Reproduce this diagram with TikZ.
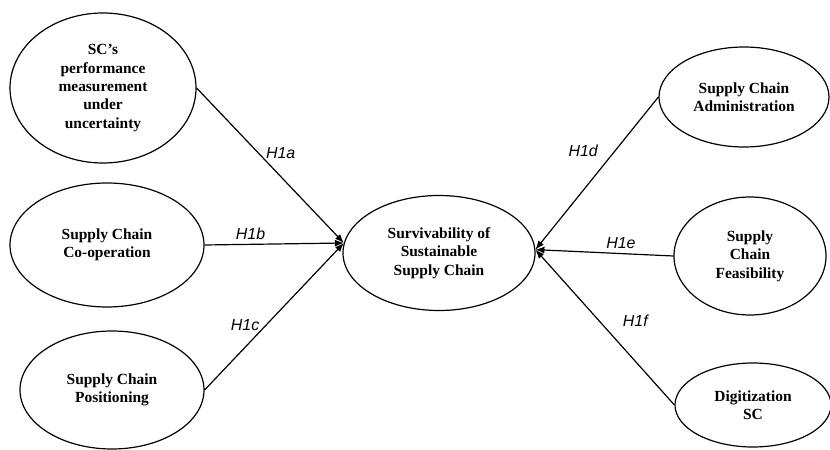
\documentclass[tikz,border=0pt]{standalone}
\usepackage{fontspec}
\setmainfont{Liberation Serif}
\newfontfamily\hfont{Liberation Sans}
\usetikzlibrary{shapes.geometric,arrows.meta}

\begin{document}
\begin{tikzpicture}[x=1bp, y=-1bp, line width=1.2pt, >={Latex[length=9pt,width=7pt]},
    main/.style = {draw, ellipse, inner sep=0pt, align=center, font=\fontsize{15.5}{18.5}\selectfont\bfseries},
    hyp/.style = {font=\hfont\itshape\fontsize{16}{18}\selectfont, inner sep=1pt}]
        \useasboundingbox (0,0) rectangle (830,450);
        \node[main, minimum width=186bp, minimum height=150bp] (1) at (103,88) {SC’s\\performance\\measurement\\under\\uncertainty};
        \node[main, minimum width=194bp, minimum height=124bp] (2) at (107,245) {Supply Chain\\Co-operation};
        \node[main, minimum width=184bp, minimum height=118bp] (3) at (112,390) {Supply Chain\\Positioning};
        \node[main, minimum width=192bp, minimum height=115bp] (4) at (439,253) {Survivability of\\Sustainable\\Supply Chain};
        \node[main, minimum width=170bp, minimum height=100bp] (5) at (744,97) {Supply Chain\\Administration};
        \node[main, minimum width=152bp, minimum height=118bp] (6) at (750,256) {Supply\\Chain\\Feasibility};
        \node[main, minimum width=156bp, minimum height=84bp] (7) at (753,405) {Digitization\\SC};
        \draw[->] (1.east) -- node[hyp, pos=0.42, right=6bp] (h1a) {H1a} (4.174);
        \draw[->] (2.east) -- node[hyp, pos=0.33, above=3bp] (h1b) {H1b} (4.174);
        \draw[->] (3.east) -- node[hyp, pos=0.44, left=5bp] (h1c) {H1c} (4.174);
        \draw[->] (5.west) -- node[hyp, pos=0.35, left=16bp] (h1d) {H1d} (4.2);
        \draw[->] (6.west) -- node[hyp, pos=0.38, above=3bp] (h1e) {H1e} (4.2);
        \draw[->] (7.west) -- node[hyp, pos=0.54, right=22bp] (h1f) {H1f} (4.2);
    \end{tikzpicture}
\end{document}
